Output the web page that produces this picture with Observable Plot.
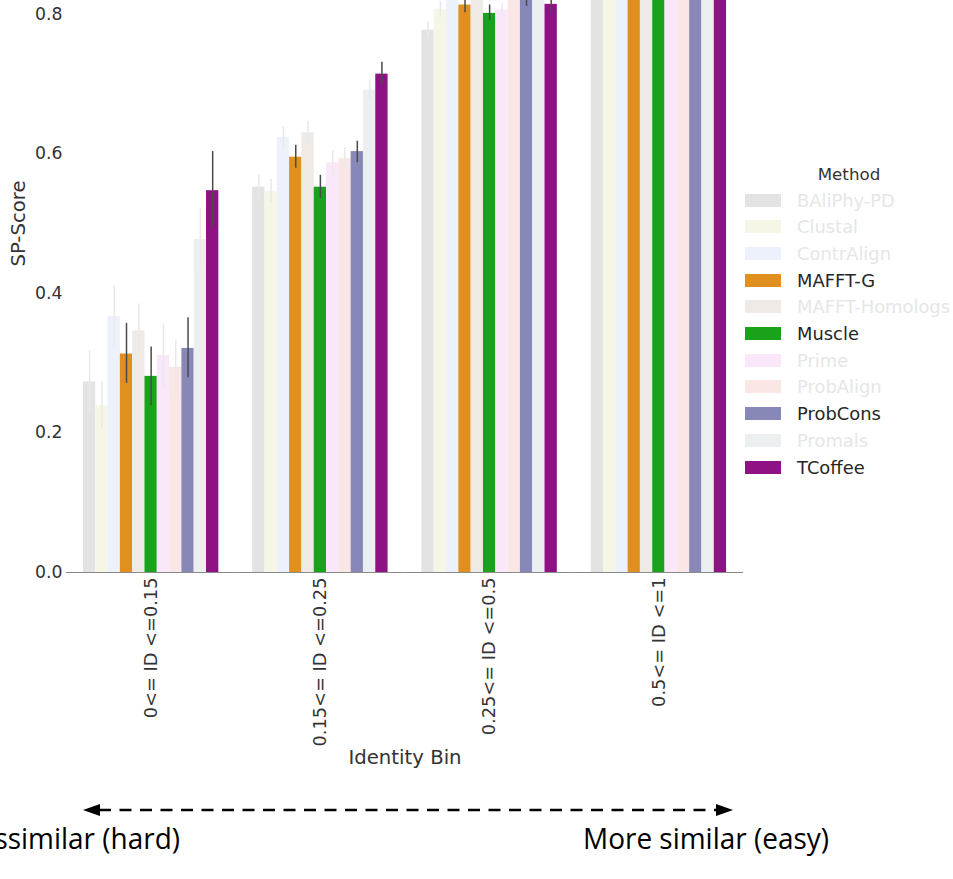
<!DOCTYPE html>
<html>
<head>
<meta charset="utf-8">
<script src="https://cdn.jsdelivr.net/npm/d3@7"></script>
<script src="https://cdn.jsdelivr.net/npm/@observablehq/plot@0.6"></script>
<style>
  html, body { margin: 0; padding: 0; background: #fff; }
  #wrap { position: relative; width: 953px; height: 879px; overflow: hidden; background: #fff; }
  #chart svg { display: block; margin-top: -126px; }
  #chart svg text { font-family: "DejaVu Sans", sans-serif; fill: #333; }
  #chart [aria-label="y-axis tick label"] text { font-size: 17.3px !important; }
  #chart [aria-label="fx-axis tick label"] text { font-size: 17.8px !important; }
  #chart [aria-label="y-axis label"] text, #chart [aria-label="fx-axis label"] text { font-size: 19.7px !important; }
  #legend { position: absolute; left: 745px; top: 0; width: 208px; font-family: "DejaVu Sans", sans-serif; font-size: 17.9px; }
  #legend .title { position: absolute; left: 0; width: 208px; text-align: center; top: 164px; color: #333; font-size: 16.7px; }
  #legend .row { position: absolute; left: 0; height: 20px; display: flex; align-items: center; white-space: nowrap; }
  #legend .sw { width: 36px; height: 13px; margin-right: 16px; flex: none; }
  #annot { position: absolute; left: 0; top: 0; }
</style>
</head>
<body>
<div id="wrap">
  <div id="chart"></div>
  <div id="legend"></div>
  <svg id="annot" width="953" height="879"></svg>
</div>
<script>
const methods = ["BAliPhy-PD","Clustal","ContrAlign","MAFFT-G","MAFFT-Homologs","Muscle","Prime","ProbAlign","ProbCons","Promals","TCoffee"];
const colors  = ["#e3e3e3","#f6f6e7","#ecf1fb","#e0901f","#efeae6","#1aa31a","#fae8fa","#fbe6e6","#8888b8","#ebeff0","#8e1283"];
const highlighted = ["MAFFT-G","Muscle","ProbCons","TCoffee"];
const bins = ["0<= ID <=0.15","0.15<= ID <=0.25","0.25<= ID <=0.5","0.5<= ID <=1"];

// mean SP-score per method, one array per identity bin
const bin1 = [0.273,0.239,0.367,0.313,0.346,0.281,0.311,0.294,0.321,0.477,0.547];
const bin2 = [0.552,0.546,0.623,0.595,0.630,0.552,0.587,0.593,0.603,0.691,0.714];
const bin3 = [0.777,0.807,0.830,0.813,0.835,0.801,0.806,0.830,0.822,0.845,0.814];
const bin4 = [0.930,0.940,0.950,0.950,0.950,0.940,0.945,0.950,0.950,0.955,0.950];
// confidence interval bounds
const lo1 = [0.228,0.205,0.323,0.271,0.307,0.239,0.266,0.255,0.279,0.433,0.495];
const hi1 = [0.318,0.273,0.411,0.357,0.385,0.323,0.356,0.333,0.365,0.521,0.603];
const lo2 = [0.535,0.529,0.607,0.579,0.614,0.536,0.570,0.577,0.587,0.676,0.698];
const hi2 = [0.569,0.563,0.639,0.612,0.646,0.569,0.604,0.609,0.618,0.706,0.731];
const lo3 = [0.765,0.796,0.818,0.802,0.823,0.791,0.797,0.818,0.811,0.833,0.800];
const hi3 = [0.789,0.818,0.842,0.825,0.847,0.813,0.815,0.842,0.833,0.857,0.828];
const lo4 = [0.920,0.930,0.940,0.940,0.940,0.930,0.935,0.940,0.940,0.945,0.940];
const hi4 = [0.940,0.950,0.960,0.960,0.960,0.950,0.955,0.960,0.960,0.965,0.960];
const yTicks = [0, 0.2, 0.4, 0.6, 0.8];

const values = [bin1, bin2, bin3, bin4];
const los = [lo1, lo2, lo3, lo4];
const his = [hi1, hi2, hi3, hi4];
const rows = [];
bins.forEach((b, i) => methods.forEach((m, j) => rows.push({bin: b, method: m, value: values[i][j], lo: los[i][j], hi: his[i][j]})));
const isHi = d => highlighted.includes(d.method);

const chart = Plot.plot({
  width: 953,
  height: 906,
  marginTop: 0,
  marginLeft: 66,
  marginRight: 210,
  marginBottom: 208,
  style: {fontFamily: "DejaVu Sans, sans-serif", fontSize: "17px", color: "#333", background: "transparent"},
  fx: {domain: bins, paddingInner: 0.2, paddingOuter: 0.1, round: false, label: "Identity Bin", tickSize: 0, tickPadding: 5, tickRotate: -90, labelAnchor: "center", labelOffset: 191},
  x: {domain: methods, padding: 0, round: false, axis: null},
  y: {domain: [0, 1.0], ticks: yTicks, tickFormat: ".1f", label: "SP-Score", tickSize: 0, tickPadding: 21, labelAnchor: "center", labelOffset: 72, labelArrow: false},
  color: {domain: methods, range: colors},
  marks: [
    Plot.barY(rows, {fx: "bin", x: "method", y: "value", fill: "method"}),
    Plot.ruleX(rows.filter(d => !isHi(d)), {fx: "bin", x: "method", y1: "lo", y2: "hi", stroke: "#e9e9e9", strokeWidth: 1.5}),
    Plot.ruleX(rows.filter(isHi), {fx: "bin", x: "method", y1: "lo", y2: "hi", stroke: "#4a4a4a", strokeWidth: 1.5}),
    Plot.ruleY([0], {stroke: "#8a8a8a", strokeWidth: 1.2, insetLeft: -17, insetRight: -17})
  ]
});
document.getElementById("chart").appendChild(chart);

// legend
const legend = document.getElementById("legend");
const t = document.createElement("div");
t.className = "title"; t.textContent = "Method";
legend.appendChild(t);
methods.forEach((m, i) => {
  const r = document.createElement("div");
  r.className = "row";
  r.style.top = (190 + i * 26.7) + "px";
  const sw = document.createElement("div");
  sw.className = "sw"; sw.style.background = colors[i];
  const lab = document.createElement("span");
  lab.textContent = m;
  lab.style.color = highlighted.includes(m) ? "#262626" : "#e6e6e6";
  r.appendChild(sw); r.appendChild(lab);
  legend.appendChild(r);
});

// bottom annotation
const ns = "http://www.w3.org/2000/svg";
const annot = document.getElementById("annot");
function el(name, attrs, text) {
  const e = document.createElementNS(ns, name);
  for (const k in attrs) e.setAttribute(k, attrs[k]);
  if (text) e.textContent = text;
  annot.appendChild(e);
  return e;
}
el("line", {x1: 99, y1: 810, x2: 717, y2: 810, stroke: "#000", "stroke-width": 2.5, "stroke-dasharray": "12 8.5"});
el("polygon", {points: "83,810 100,804 100,816", fill: "#000"});
el("polygon", {points: "733,810 716,804 716,816", fill: "#000"});
const right = el("text", {x: 583, y: 849, "font-family": "Open Sans, sans-serif", "font-size": 29, fill: "#000"}, "More similar (easy)");
const natural = right.getComputedTextLength();
const scale = 246 / natural;
right.setAttribute("textLength", 246);
right.setAttribute("lengthAdjust", "spacingAndGlyphs");
const left = el("text", {x: 0, y: 849, "font-family": "Open Sans, sans-serif", "font-size": 29, fill: "#000"}, "More dissimilar (hard)");
const lw = left.getComputedTextLength() * scale;
left.setAttribute("textLength", lw);
left.setAttribute("lengthAdjust", "spacingAndGlyphs");
left.setAttribute("x", 180 - lw);
</script>
</body>
</html>
